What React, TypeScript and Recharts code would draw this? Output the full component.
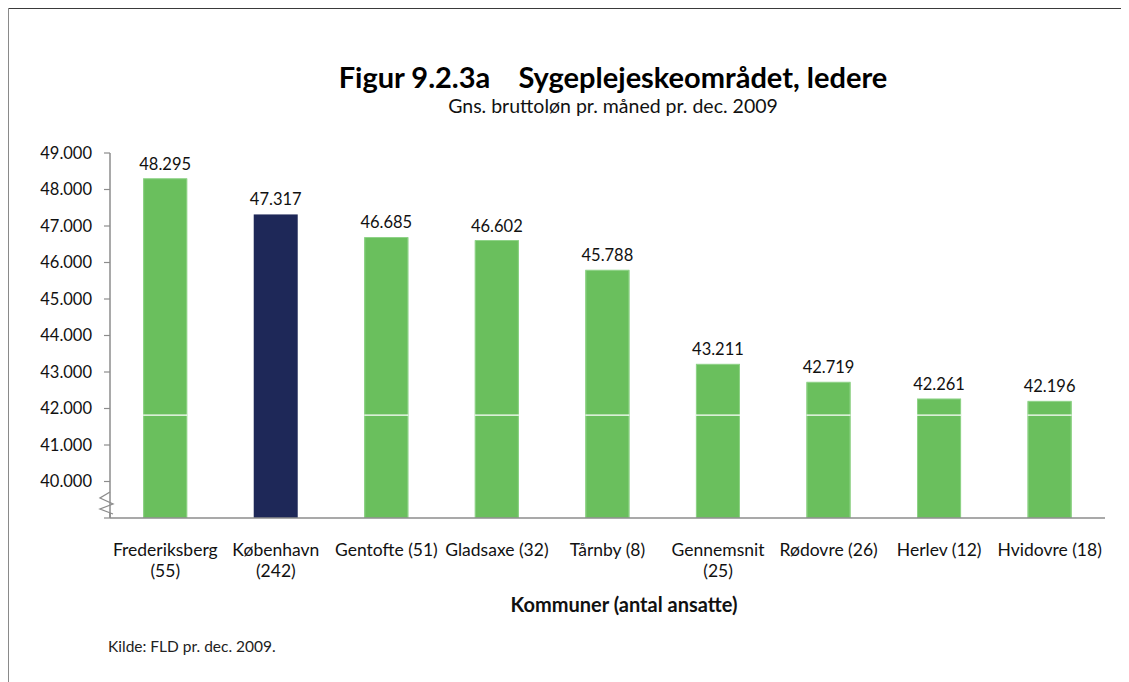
import React from 'react';
import { BarChart, Bar, XAxis, YAxis, Cell, LabelList, ReferenceLine } from 'recharts';

const categories = [
  'Frederiksberg\n(55)',
  'København\n(242)',
  'Gentofte (51)',
  'Gladsaxe (32)',
  'Tårnby (8)',
  'Gennemsnit\n(25)',
  'Rødovre (26)',
  'Herlev (12)',
  'Hvidovre (18)',
];
const values = [48295, 47317, 46685, 46602, 45788, 43211, 42719, 42261, 42196];
const highlightCategory = 'København\n(242)';
const yTicks = [39000, 40000, 41000, 42000, 43000, 44000, 45000, 46000, 47000, 48000, 49000];
const gridTicks = [0, 1, 2, 3, 4, 5, 6, 7, 8, 9];
const innerLineValue = 41820;
const yMin = 39000;
const yMax = 49000;

const title = 'Figur 9.2.3a    Sygeplejeskeområdet, ledere';
const subtitle = 'Gns. bruttoløn pr. måned pr. dec. 2009';
const xTitle = 'Kommuner (antal ansatte)';
const source = 'Kilde: FLD pr. dec. 2009.';

const data = categories.map((name, i) => ({ name, value: values[i] }));

const FONT = 'Lato, "Open Sans", sans-serif';
const GREEN = '#6abf5d';
const NAVY = '#1e2858';
const AXIS = '#8c8c8c';

const fmt = (v: number) => String(v).replace(/\B(?=(\d{3})+(?!\d))/g, '.');

const CatTick = (props: any) => {
  const { x, y, payload } = props;
  const lines = String(payload.value).split('\n');
  return (
    <text x={x} y={y} textAnchor="middle" fontSize={17.5} fill="#111" fontFamily={FONT}>
      {lines.map((l, i) => (
        <tspan key={i} x={x} dy={i === 0 ? 22 : 21}>
          {l}
        </tspan>
      ))}
    </text>
  );
};

const BarShape = (props: any) => {
  const { x, y, width, height, fill, payload } = props;
  const v = payload.value;
  const showLine = fill === GREEN && v > innerLineValue;
  const ly = y + (height * (v - innerLineValue)) / (v - yMin);
  return (
    <g>
      <rect x={x} y={y} width={width} height={height} fill={fill} />
      {fill === GREEN && (
        <rect x={x + 0.5} y={y} width={width - 1} height={height} fill="none" stroke="#8fd388" strokeWidth={1} />
      )}
      {showLine && <line x1={x} x2={x + width} y1={ly} y2={ly} stroke="#ffffff" strokeWidth={1.2} />}
    </g>
  );
};

const BreakShape = (props: any) => {
  const { x1, y1 } = props;
  const x = x1;
  const y = y1;
  const pts = [
    [x, y - 26],
    [x - 10, y - 20],
    [x + 3, y - 14],
    [x - 10, y - 9],
    [x + 3, y - 4],
  ]
    .map((p) => p.join(','))
    .join(' ');
  return (
    <g>
      <rect x={x - 2} y={y - 26} width={4} height={23} fill="#fff" />
      <polyline points={pts} fill="none" stroke={AXIS} strokeWidth={1.3} />
      <line x1={x} x2={x} y1={y - 5} y2={y} stroke={AXIS} strokeWidth={1.5} />
    </g>
  );
};

export default function App() {
  return (
    <div style={{ position: 'relative', width: 1121, height: 674, fontFamily: FONT }}>
      <div style={{ position: 'absolute', left: -1, top: -1, width: 1122, height: 2, background: '#3a3a3a' }} />
      <div style={{ position: 'absolute', left: -1, top: -1, width: 2, height: 680, background: '#8a8a8a' }} />
      <div
        style={{
          position: 'absolute',
          left: 0,
          width: 1210,
          top: 53,
          textAlign: 'center',
          fontSize: 29,
          fontWeight: 700,
          lineHeight: '32px',
          whiteSpace: 'pre',
          color: '#000',
        }}
      >
        {title}
      </div>
      <div
        style={{
          position: 'absolute',
          left: 0,
          width: 1210,
          top: 87,
          textAlign: 'center',
          fontSize: 19.5,
          lineHeight: '22px',
          color: '#111',
        }}
      >
        {subtitle}
      </div>
      <div style={{ position: 'absolute', left: 0, top: 0 }}>
        <BarChart
          width={1121}
          height={674}
          data={data}
          margin={{ top: 145, right: 24, bottom: 96, left: 0 }}
          barCategoryGap="30%"
        >
          <XAxis
            xAxisId="b"
            dataKey="name"
            type="category"
            height={60}
            axisLine={false}
            tickLine={false}
            interval={0}
            tick={<CatTick />}
          />
          <XAxis
            xAxisId="a"
            type="number"
            domain={[0, 9]}
            ticks={gridTicks}
            allowDataOverflow
            tick={false}
            tickSize={6}
            height={8}
            axisLine={{ stroke: AXIS, strokeWidth: 1.5 }}
            tickLine={{ stroke: AXIS, strokeWidth: 1.2 }}
          />
          <YAxis
            domain={[yMin, yMax]}
            ticks={yTicks}
            allowDataOverflow
            width={102}
            tickSize={6}
            tickMargin={12}
            tickFormatter={(v: number) => (v === yMin ? '' : fmt(v))}
            tick={{ fontSize: 16.5, fill: '#111', fontFamily: FONT }}
            axisLine={{ stroke: AXIS, strokeWidth: 1.5 }}
            tickLine={{ stroke: AXIS, strokeWidth: 1.2 }}
          />
          <Bar dataKey="value" xAxisId="b" isAnimationActive={false} shape={<BarShape />}>
            {data.map((d) => (
              <Cell key={d.name} fill={d.name === highlightCategory ? NAVY : GREEN} />
            ))}
            <LabelList
              dataKey="value"
              position="top"
              offset={9}
              formatter={(v: any) => fmt(Number(v))}
              style={{ fontSize: 16.5, fill: '#111', fontFamily: FONT }}
            />
          </Bar>
          <ReferenceLine xAxisId="b" y={yMin} stroke="none" shape={<BreakShape />} ifOverflow="visible" />
        </BarChart>
      </div>
      <div
        style={{
          position: 'absolute',
          left: 0,
          width: 1232,
          top: 585,
          textAlign: 'center',
          fontSize: 20,
          fontWeight: 700,
          lineHeight: '22px',
          color: '#111',
        }}
      >
        {xTitle}
      </div>
      <div
        style={{
          position: 'absolute',
          left: 100,
          top: 629,
          fontSize: 15.5,
          lineHeight: '18px',
          color: '#222',
        }}
      >
        {source}
      </div>
    </div>
  );
}
